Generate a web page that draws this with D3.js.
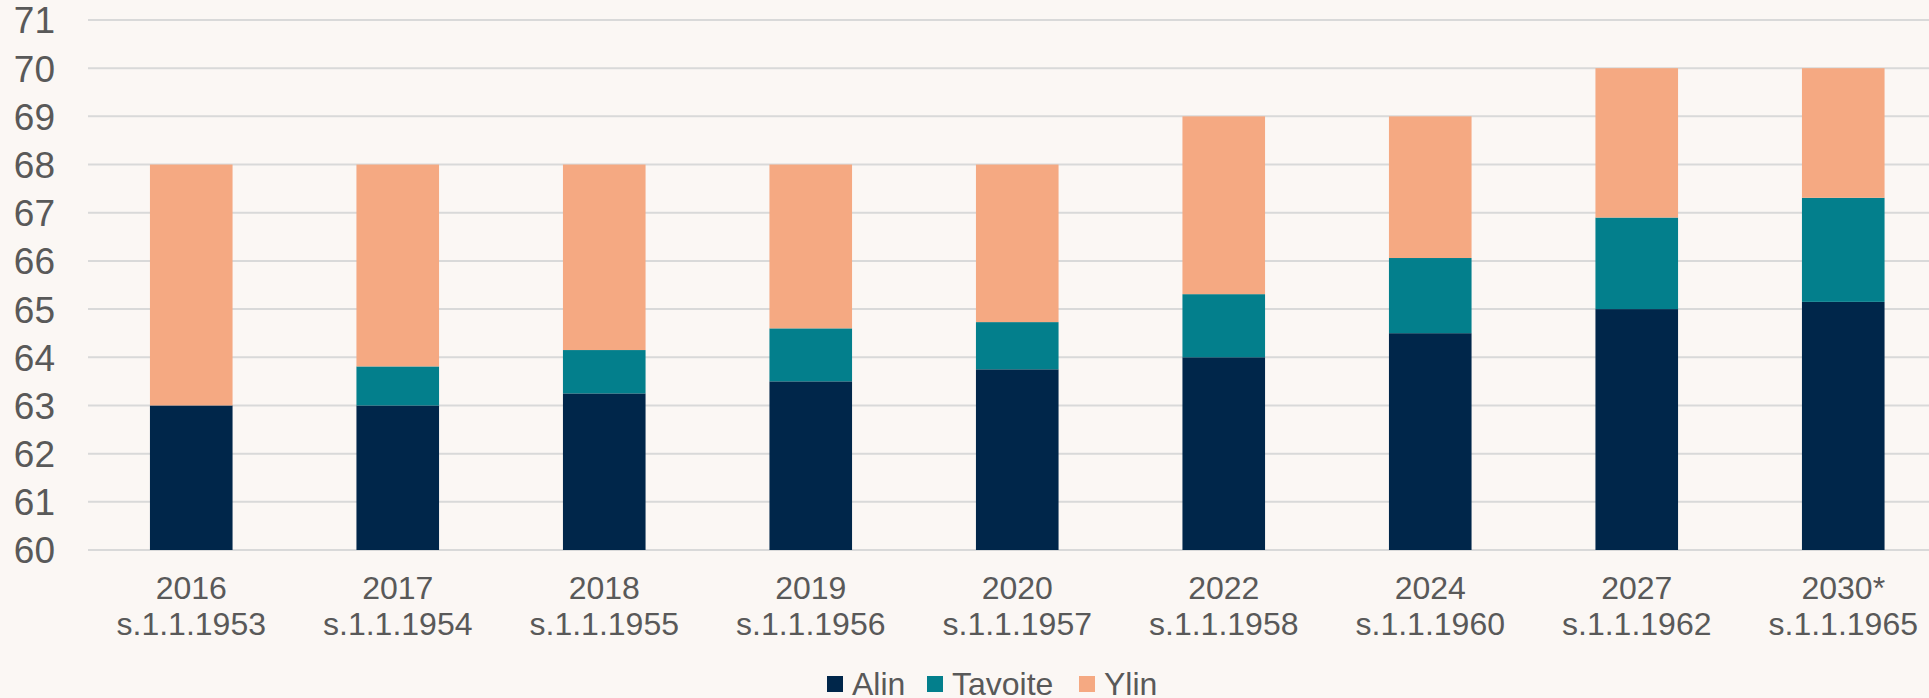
<!DOCTYPE html>
<html>
  <head>
    <meta charset="utf-8" />
    <title>Eläkeikä</title>
    <script src="https://d3js.org/d3.v7.min.js"></script>
    <style>
        body{
            margin:0;
            background:#fbf7f4;
        }
        text{
            font-family:"Liberation Sans", Arial, sans-serif;
            fill:#595959;
        }
    </style>
  </head>
  <body>
    <svg id="chart">
        <g id="grid"></g>
        <g id="y"></g>
        <g id="bars"></g>
        <g id="x"></g>
        <g id="legend"></g>
    </svg>

    <script>
      // data
      var years = ["2016", "2017", "2018", "2019", "2020", "2022", "2024", "2027", "2030*"];
      var cohorts = ["s.1.1.1953", "s.1.1.1954", "s.1.1.1955", "s.1.1.1956", "s.1.1.1957", "s.1.1.1958", "s.1.1.1960", "s.1.1.1962", "s.1.1.1965"];
      var alin = [63, 63, 63.25, 63.5, 63.75, 64, 64.5, 65, 65.15];
      var tavoite = [63, 63.81, 64.15, 64.6, 64.73, 65.31, 66.06, 66.9, 67.31];
      var ylin = [68, 68, 68, 68, 68, 69, 69, 70, 70];
      var yTicks = [60, 61, 62, 63, 64, 65, 66, 67, 68, 69, 70, 71];

      var seriesNames = ["Alin", "Tavoite", "Ylin"];
      var colors = ["#00264a", "#037f8c", "#f5a982"];

      var width = 1929;
      var height = 698;
      var margin = {top: 20, left: 88, bottom: 148};

      var svg = d3.select("#chart")
        .attr("width", width)
        .attr("height", height);

      // each bar split into three stacked pieces from 60 upward
      var rows = years.map(function(yr, i) {
        return {
          key: yr,
          cohort: cohorts[i],
          parts: [
            {s: 0, y0: 60, y1: alin[i]},
            {s: 1, y0: alin[i], y1: tavoite[i]},
            {s: 2, y0: tavoite[i], y1: ylin[i]}
          ]
        };
      });

      var x = d3.scaleBand()
        .domain(years)
        .range([margin.left, 1946.5])
        .paddingInner(0.6)
        .paddingOuter(0.3);

      var y = d3.scaleLinear()
        .domain([60, 71])
        .range([height - margin.bottom, margin.top]);

      // gridlines
      svg.select("#grid").selectAll("line")
        .data(yTicks)
        .enter().append("line")
        .attr("x1", margin.left)
        .attr("x2", width)
        .attr("y1", function(d) { return y(d); })
        .attr("y2", function(d) { return y(d); })
        .attr("stroke", "#d9d9d9")
        .attr("stroke-width", 2);

      var yAxis = d3.axisLeft(y)
        .tickValues(yTicks)
        .tickSize(0)
        .tickPadding(0);
      svg.select("#y")
        .attr("transform", "translate(55, 0)")
        .call(yAxis)
        .call(function(g) { g.select(".domain").remove(); })
        .selectAll("text")
        .attr("font-size", 37)
        .attr("font-family", "Liberation Sans, Arial, sans-serif")
        .attr("fill", "#595959")
        .attr("dy", "0.35em");

      // bars
      var groups = svg.select("#bars").selectAll("g")
        .data(rows)
        .enter().append("g");

      groups.selectAll("rect")
        .data(function(d) { return d.parts.map(function(p) { p.key = d.key; return p; }); })
        .enter().append("rect")
        .attr("x", function(d) { return x(d.key); })
        .attr("width", x.bandwidth())
        .attr("y", function(d) { return y(d.y1); })
        .attr("height", function(d) { return y(d.y0) - y(d.y1); })
        .attr("fill", function(d) { return colors[d.s]; });

      // x axis, two lines per tick
      var xAxis = d3.axisBottom(x).tickSize(0).tickFormat("");
      var xg = svg.select("#x")
        .attr("transform", "translate(0, " + y(60) + ")")
        .call(xAxis);
      xg.select(".domain").remove();
      xg.selectAll(".tick").each(function(d, i) {
        var t = d3.select(this).append("text")
          .attr("text-anchor", "middle")
          .attr("font-size", 32)
          .attr("fill", "#595959");
        t.append("tspan").attr("x", 0).attr("y", 49).text(years[i]);
        t.append("tspan").attr("x", 0).attr("y", 85).text(cohorts[i]);
      });

      // legend
      var legend = svg.select("#legend").attr("transform", "translate(827, 695)");
      var offsets = [0, 100, 252];
      var items = legend.selectAll("g")
        .data(seriesNames)
        .enter().append("g")
        .attr("transform", function(d, i) { return "translate(" + offsets[i] + ", 0)"; });
      items.append("rect")
        .attr("y", -19)
        .attr("width", 16)
        .attr("height", 16)
        .attr("fill", function(d, i) { return colors[i]; });
      items.append("text")
        .attr("x", 25)
        .attr("font-size", 32)
        .text(function(d) { return d; });
    </script>
  </body>
</html>
